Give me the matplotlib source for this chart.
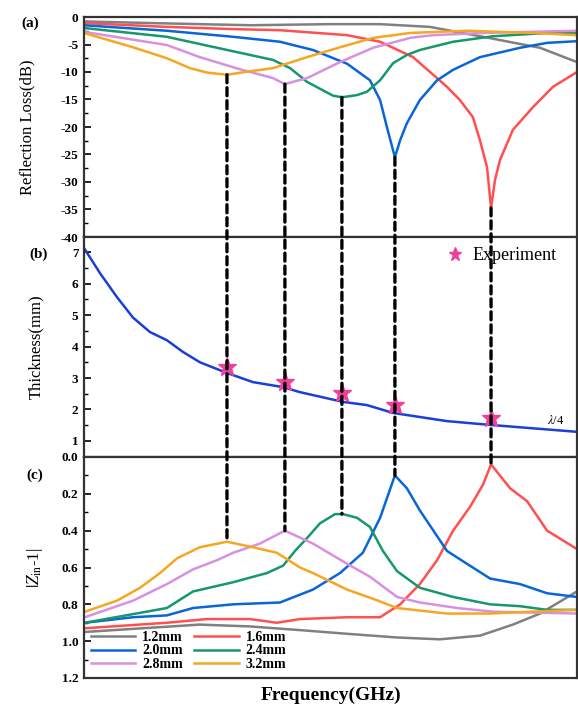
import matplotlib
matplotlib.use("Agg")
import matplotlib.pyplot as plt
from matplotlib.patches import ConnectionPatch
from matplotlib.ticker import MultipleLocator, NullLocator, FormatStrFormatter

plt.rcParams['font.family'] = ['Liberation Serif', 'DejaVu Serif']
plt.rcParams['mathtext.fontset'] = 'stix'
plt.rcParams['axes.unicode_minus'] = False

# ---------------- data ----------------
labels = ['1.2mm', '1.6mm', '2.0mm', '2.4mm', '2.8mm', '3.2mm']
colors = ['#808080', '#FF4F4F', '#0A66D6', '#16976C', '#D890E0', '#F5A623']

# (a) Reflection loss (dB)
rl_f_12 = [2.0, 4.14, 7.39, 9.98, 11.61, 13.23, 14.95, 16.80, 18.0]
rl_v_12 = [-0.8, -1.1, -1.5, -1.3, -1.3, -1.8, -3.6, -5.6, -8.2]
rl_f_16 = [2.0, 4.69, 6.84, 8.36, 10.54, 11.61, 12.68, 13.78, 14.20, 14.62, 14.85, 15.08, 15.21, 15.34, 15.50, 15.92, 16.57, 17.22, 18.0]
rl_v_16 = [-1.1, -1.8, -2.2, -2.4, -3.3, -4.5, -7.3, -12.7, -15.1, -18.2, -22.4, -27.3, -34.7, -29.6, -26.0, -20.5, -16.4, -12.7, -10.0]
rl_f_20 = [2.0, 4.69, 6.84, 8.36, 9.43, 10.54, 11.28, 11.61, 11.83, 12.09, 12.26, 12.48, 12.90, 13.46, 13.98, 14.85, 16.15, 17.03, 18.0]
rl_v_20 = [-1.5, -2.5, -3.6, -4.5, -6.0, -8.5, -11.5, -15.1, -20.0, -25.5, -22.4, -19.3, -15.1, -11.5, -9.6, -7.3, -5.6, -4.7, -4.4]
rl_f_24 = [2.0, 4.69, 6.32, 7.06, 8.13, 8.69, 9.24, 10.08, 10.37, 10.86, 11.18, 11.61, 12.03, 12.48, 12.90, 13.98, 15.27, 17.03, 18.0]
rl_v_24 = [-2.0, -3.6, -5.6, -6.5, -7.8, -9.3, -11.8, -14.3, -14.6, -14.2, -13.6, -11.5, -8.4, -6.9, -6.0, -4.5, -3.5, -2.9, -2.9]
rl_f_28 = [2.0, 4.69, 5.76, 7.06, 8.13, 8.52, 9.24, 10.31, 11.38, 12.58, 13.33, 14.95, 18.0]
rl_v_28 = [-2.7, -5.1, -7.3, -9.5, -11.1, -12.2, -11.1, -8.2, -5.6, -3.8, -3.3, -2.9, -2.5]
rl_f_32 = [2.0, 3.59, 4.69, 5.44, 5.99, 6.64, 7.23, 8.13, 9.24, 10.31, 11.38, 12.58, 14.43, 16.57, 18.0]
rl_v_32 = [-2.9, -5.5, -7.5, -9.3, -10.1, -10.5, -10.0, -9.3, -7.3, -5.5, -3.8, -2.9, -2.5, -2.9, -3.3]

# (b) quarter-wavelength thickness (mm) and experiment points
qw_f = [2.0, 2.52, 3.07, 3.59, 4.14, 4.69, 5.21, 5.76, 6.64, 7.48, 8.46, 9.01, 10.41, 11.18, 12.03, 13.78, 15.18, 18.0]
qw_t = [7.13, 6.33, 5.57, 4.92, 4.46, 4.20, 3.83, 3.50, 3.16, 2.87, 2.71, 2.55, 2.24, 2.14, 1.89, 1.63, 1.51, 1.29]
exp_f = [6.64, 8.52, 10.37, 12.09, 15.21]
exp_t = [3.35, 2.87, 2.52, 2.14, 1.73]

# (c) |Zin - 1|
z_f_12 = [2.03, 5.76, 7.39, 9.01, 10.54, 12.16, 13.55, 14.85, 15.92, 16.80, 18.0]
z_v_12 = [0.95, 0.91, 0.92, 0.94, 0.96, 0.98, 0.99, 0.97, 0.91, 0.85, 0.73]
z_f_16 = [2.03, 4.69, 5.99, 7.39, 8.26, 9.01, 10.54, 11.61, 12.26, 12.90, 13.46, 13.98, 14.53, 14.95, 15.21, 15.40, 15.83, 16.38, 17.03, 18.0]
z_v_16 = [0.93, 0.90, 0.88, 0.88, 0.90, 0.88, 0.87, 0.87, 0.80, 0.69, 0.56, 0.40, 0.27, 0.15, 0.04, 0.08, 0.17, 0.24, 0.40, 0.50]
z_f_20 = [2.03, 3.59, 4.69, 5.54, 6.84, 8.36, 9.43, 10.31, 11.05, 11.61, 12.09, 12.48, 12.90, 13.78, 14.43, 15.18, 16.15, 17.03, 18.0]
z_v_20 = [0.90, 0.87, 0.86, 0.82, 0.80, 0.79, 0.72, 0.63, 0.52, 0.33, 0.10, 0.17, 0.29, 0.51, 0.58, 0.66, 0.69, 0.74, 0.76]
z_f_24 = [2.03, 4.69, 5.54, 6.84, 7.94, 8.46, 8.85, 9.24, 9.66, 10.15, 10.40, 10.86, 11.28, 11.70, 12.16, 12.90, 13.98, 15.18, 16.15, 17.03, 18.0]
z_v_24 = [0.90, 0.82, 0.73, 0.68, 0.63, 0.59, 0.51, 0.44, 0.36, 0.31, 0.31, 0.33, 0.38, 0.51, 0.62, 0.71, 0.76, 0.80, 0.81, 0.83, 0.83]
z_f_28 = [2.03, 3.59, 4.69, 5.54, 6.32, 6.84, 7.71, 8.52, 9.43, 10.54, 11.28, 12.16, 12.90, 14.11, 15.27, 18.0]
z_v_28 = [0.87, 0.78, 0.69, 0.61, 0.56, 0.52, 0.47, 0.40, 0.47, 0.58, 0.65, 0.76, 0.79, 0.82, 0.84, 0.85]
z_f_32 = [2.03, 3.07, 3.82, 4.47, 5.02, 5.76, 6.64, 7.48, 8.26, 9.01, 9.43, 10.54, 11.38, 12.16, 13.78, 15.18, 16.47, 18.0]
z_v_32 = [0.84, 0.78, 0.71, 0.63, 0.55, 0.49, 0.46, 0.49, 0.52, 0.60, 0.63, 0.72, 0.77, 0.82, 0.85, 0.85, 0.84, 0.83]

# dashed guide lines: frequency, RL minimum, |Zin-1| minimum
guide_f = [6.64, 8.52, 10.37, 12.09, 15.21]
guide_rl = [-10.5, -12.2, -14.6, -25.5, -34.7]
guide_z = [0.46, 0.40, 0.31, 0.10, 0.04]

rl_f = [rl_f_12, rl_f_16, rl_f_20, rl_f_24, rl_f_28, rl_f_32]
rl_v = [rl_v_12, rl_v_16, rl_v_20, rl_v_24, rl_v_28, rl_v_32]
z_f = [z_f_12, z_f_16, z_f_20, z_f_24, z_f_28, z_f_32]
z_v = [z_v_12, z_v_16, z_v_20, z_v_24, z_v_28, z_v_32]

# ---------------- figure ----------------
W, H = 578, 705
fig = plt.figure(figsize=(W / 100, H / 100), dpi=100)

left = 84 / W
width = 493 / W
def rect(top_px, bot_px):
    return [left, 1 - bot_px / H, width, (bot_px - top_px) / H]

ax_a = fig.add_axes(rect(17, 237))
ax_b = fig.add_axes(rect(237, 457))
ax_c = fig.add_axes(rect(457, 678))

for ax in (ax_a, ax_b, ax_c):
    ax.set_xlim(2, 18)
    ax.xaxis.set_major_locator(NullLocator())
    ax.xaxis.set_minor_locator(NullLocator())
    for s in ax.spines.values():
        s.set_linewidth(1.6)
        s.set_color('#333333')
    ax.tick_params(axis='y', which='both', direction='in', right=False, left=True)
    ax.tick_params(axis='y', which='major', length=5, width=1.2, pad=4)
    ax.tick_params(axis='y', which='minor', length=3, width=1.0)

lw = 1.8
# (a)
for f, v, c, l in zip(rl_f, rl_v, colors, labels):
    ax_a.plot(f, v, color=c, lw=lw, label=l)
ax_a.set_ylim(-40, 0)
ax_a.yaxis.set_major_locator(MultipleLocator(5))
ax_a.yaxis.set_minor_locator(MultipleLocator(2.5))
ax_a.set_ylabel('Reflection Loss(dB)', fontsize=12)
ax_a.yaxis.set_label_coords(-0.098, 0.5)

# (b)
ax_b.plot(qw_f, qw_t, color='#1A3FD6', lw=lw)
ax_b.plot(exp_f, exp_t, linestyle='none', marker='*', markersize=14,
          color='#F0409A', label='Experiment', zorder=15)
ax_b.set_ylim(0.49, 7.48)
ax_b.yaxis.set_major_locator(MultipleLocator(1))
ax_b.yaxis.set_minor_locator(MultipleLocator(0.5))
ax_b.set_ylabel('Thickness(mm)', fontsize=12)
ax_b.yaxis.set_label_coords(-0.08, 0.5)
ax_b.text(17.3, 1.45, r'$\lambda$/4', fontsize=9, ha='center', va='bottom')
ax_b.legend(loc='upper right', frameon=False, fontsize=13, handletextpad=0.0,
            borderaxespad=0.3, markerscale=0.7, bbox_to_anchor=(0.985, 1.01))

# (c)
for f, v, c, l in zip(z_f, z_v, colors, labels):
    ax_c.plot(f, v, color=c, lw=lw, label=l)
ax_c.set_ylim(1.2, 0.0)
ax_c.yaxis.set_major_locator(MultipleLocator(0.2))
ax_c.yaxis.set_minor_locator(MultipleLocator(0.1))
ax_c.yaxis.set_major_formatter(FormatStrFormatter('%.1f'))
ax_c.set_ylabel(r'$|Z_{\mathrm{in}}$-1|', fontsize=12)
ax_c.yaxis.set_label_coords(-0.08, 0.5)
ax_c.set_xlabel('Frequency(GHz)', fontsize=14, fontweight='bold', labelpad=6)

h, l = ax_c.get_legend_handles_labels()
order = [0, 2, 4, 1, 3, 5]
ax_c.legend([h[i] for i in order], [l[i] for i in order], ncol=2,
            loc='lower left', frameon=False, handlelength=3.2,
            columnspacing=0.8, labelspacing=0.05, handletextpad=0.5,
            borderaxespad=0.1, bbox_to_anchor=(0.0, 0.0),
            prop=dict(family='Liberation Serif', weight='bold', size=10))

for ax in (ax_a, ax_b, ax_c):
    for lab in ax.get_yticklabels():
        lab.set_fontfamily('Liberation Serif')
        lab.set_fontweight('bold')
        lab.set_fontsize(9.5)

# dashed connectors
for f, r, z in zip(guide_f, guide_rl, guide_z):
    cp = ConnectionPatch(xyA=(f, r), coordsA=ax_a.transData,
                         xyB=(f, z), coordsB=ax_c.transData,
                         color='black', lw=2.4, linestyle=(0, (2.4, 1.5)),
                         zorder=10)
    fig.add_artist(cp)

# panel labels
fig.text(30 / W, 1 - 23 / H, '(a)', fontsize=11, fontweight='bold', ha='center', va='center')
fig.text(39 / W, 1 - 254 / H, '(b)', fontsize=11, fontweight='bold', ha='center', va='center')
fig.text(35 / W, 1 - 475 / H, '(c)', fontsize=11, fontweight='bold', ha='center', va='center')

fig.savefig('out.png', dpi=100)
